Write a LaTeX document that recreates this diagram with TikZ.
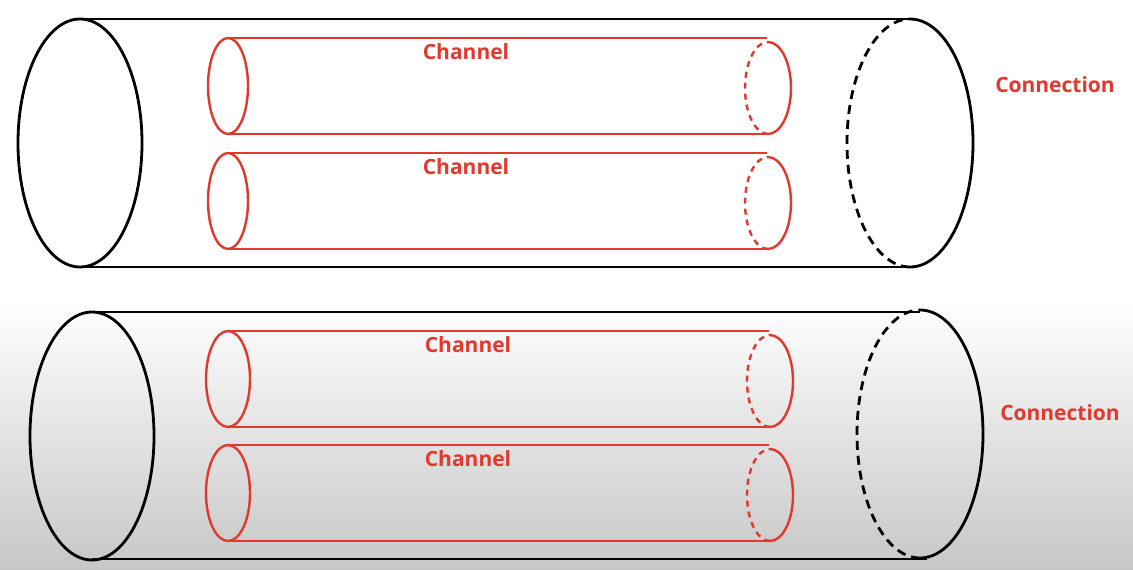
\documentclass[tikz,border=0pt]{standalone}
\usepackage{fontspec}
\setmainfont{Open Sans}
\usepackage{xcolor}
\usepackage{tikz}

\definecolor{chanred}{RGB}{226,56,46}

\begin{document}
\begin{tikzpicture}[x=1pt, y=-1pt,
  pipe/.style={line width=2.8pt, black},
  chan/.style={line width=2.4pt, chanred},
  hidden/.style={dash pattern=on 9pt off 6pt},
  hiddenred/.style={dash pattern=on 6pt off 5pt},
  lbl/.style={text=chanred, font=\fontsize{21}{24}\selectfont\bfseries}]

\useasboundingbox (0,0) rectangle (1133,570);

% Draw the shaded background
\fill[white] (0,0) rectangle (1133,300);
\shade[top color=white, bottom color=black!22] (0,300) rectangle (1133,570);

% Upper connection pipe
\draw[pipe] (80,143) ellipse [x radius=62, y radius=124];
\draw[pipe] (80,19) -- (910,19);
\draw[pipe] (80,267) -- (917,267);
\draw[pipe] (910,267) arc[start angle=90, end angle=-90, x radius=63, y radius=124];
\draw[pipe, hidden] (910,267) arc[start angle=90, end angle=270, x radius=63, y radius=124];

% Upper channels
\draw[chan] (228,86) ellipse [x radius=20, y radius=48];
\draw[chan] (228,38) -- (767,38);
\draw[chan] (228,134) -- (768,134);
\draw[chan] (768,134) arc[start angle=90, end angle=-90, x radius=23, y radius=46];
\draw[chan, hiddenred] (768,134) arc[start angle=90, end angle=270, x radius=23, y radius=46];

\draw[chan] (228,201) ellipse [x radius=20, y radius=48];
\draw[chan] (228,153) -- (767,153);
\draw[chan] (228,249) -- (768,249);
\draw[chan] (768,249) arc[start angle=90, end angle=-90, x radius=23, y radius=46];
\draw[chan, hiddenred] (768,249) arc[start angle=90, end angle=270, x radius=23, y radius=46];

% Lower connection pipe
\draw[pipe] (92,436) ellipse [x radius=62, y radius=124];
\draw[pipe] (92,312) -- (920,312);
\draw[pipe] (92,559) -- (927,559);
\draw[pipe] (920,558) arc[start angle=90, end angle=-90, x radius=63, y radius=124];
\draw[pipe, hidden] (920,558) arc[start angle=90, end angle=270, x radius=63, y radius=124];

% Lower channels
\draw[chan] (228,379) ellipse [x radius=22, y radius=48];
\draw[chan] (228,331) -- (769,331);
\draw[chan] (228,427) -- (770,427);
\draw[chan] (770,427) arc[start angle=90, end angle=-90, x radius=23, y radius=46];
\draw[chan, hiddenred] (770,427) arc[start angle=90, end angle=270, x radius=23, y radius=46];

\draw[chan] (228,493) ellipse [x radius=22, y radius=48];
\draw[chan] (228,445) -- (769,445);
\draw[chan] (228,541) -- (770,541);
\draw[chan] (770,541) arc[start angle=90, end angle=-90, x radius=23, y radius=46];
\draw[chan, hiddenred] (770,541) arc[start angle=90, end angle=270, x radius=23, y radius=46];

% Place the labels
\node[lbl] (chanA) at (466,52) {Channel};
\node[lbl] (chanB) at (466,167) {Channel};
\node[lbl] (chanC) at (468,345) {Channel};
\node[lbl] (chanD) at (468,459) {Channel};
\node[lbl] (connA) at (1055,85) {Connection};
\node[lbl] (connB) at (1060,413) {Connection};

\end{tikzpicture}
\end{document}
